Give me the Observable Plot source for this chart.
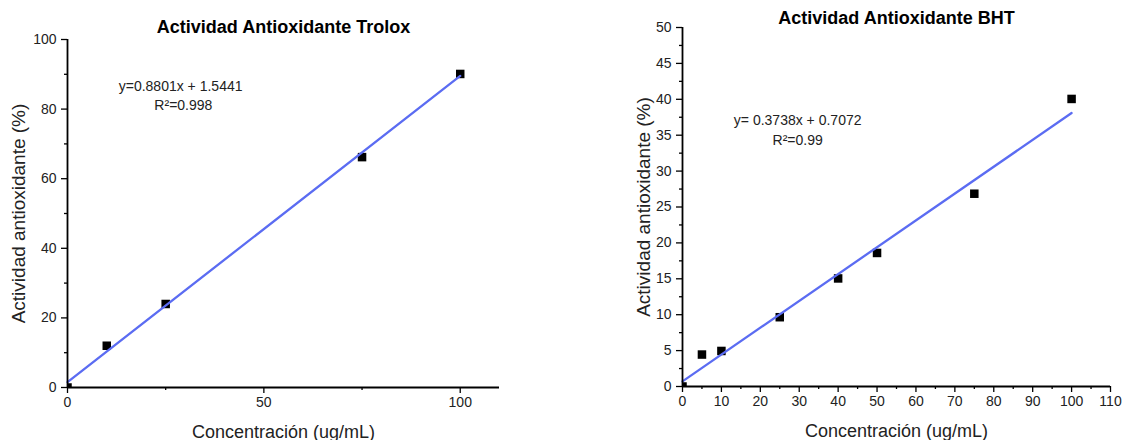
<!DOCTYPE html>
<html>
<head>
<meta charset="utf-8">
<script src="https://cdn.jsdelivr.net/npm/d3@7"></script>
<script src="https://cdn.jsdelivr.net/npm/@observablehq/plot@0.6"></script>
<style>
  html, body { margin: 0; padding: 0; background: #fff; }
  #wrap { position: relative; width: 1145px; height: 440px; overflow: hidden; font-family: "Liberation Sans", Arial, sans-serif; }
  #left, #right { position: absolute; top: 0; }
  #left { left: 0; }
  #right { left: 585px; }
  svg { overflow: visible; }
</style>
</head>
<body>
<div id="wrap"><div id="left"></div><div id="right"></div></div>
<script>
// ---- Data ----
const troloxConc = [0, 10, 25, 75, 100];
const troloxAct  = [0, 12.0, 24.0, 66.2, 90.1];
const troloxFitX = [0, 100];
const troloxFitY = [1.5441, 89.5541];
const troloxEq   = ["y=0.8801x + 1.5441", "R²=0.998"];
const troloxEqX  = [28.8, 29.5];
const troloxEqY  = [86.5, 81.0];

const bhtConc = [0, 5, 10, 25, 40, 50, 75, 100];
const bhtAct  = [0, 4.45, 4.95, 9.65, 15.05, 18.6, 26.85, 40.05];
const bhtFitX = [0, 100];
const bhtFitY = [0.7072, 38.0872];
const bhtEq   = ["y= 0.3738x + 0.7072", "R²=0.99"];
const bhtEqX  = [29.6, 29.6];
const bhtEqY  = [37.0, 34.2];

const leftXMajor = [0, 50, 100];
const leftXMinor = [25, 75];
const leftYMajor = [0, 20, 40, 60, 80, 100];
const leftYMinor = [10, 30, 50, 70, 90];

const rightXMajor = [0, 10, 20, 30, 40, 50, 60, 70, 80, 90, 100, 110];
const rightXMinor = [5, 15, 25, 35, 45, 55, 65, 75, 85, 95, 105];
const rightYMajor = [0, 5, 10, 15, 20, 25, 30, 35, 40, 45, 50];
const rightYMinor = [2.5, 7.5, 12.5, 17.5, 22.5, 27.5, 32.5, 37.5, 42.5, 47.5];

const xTitle = "Concentración (ug/mL)";
const yTitle = "Actividad antioxidante (%)";

const FONT = '"Liberation Sans", Arial, sans-serif';
const LINE = "#5b6cf2";

function chart(o) {
  const pts = o.x.map((v, i) => ({x: v, y: o.y[i]}));
  const fit = o.fx.map((v, i) => ({x: v, y: o.fy[i]}));
  const eq = o.eq.map((t, i) => ({t, x: o.eqX[i], y: o.eqY[i]}));
  return Plot.plot({
    width: 560, height: 440,
    marginLeft: o.ml, marginRight: o.mr, marginTop: o.mt, marginBottom: o.mb,
    style: {fontFamily: FONT, fontSize: "14px", color: "#222", background: "transparent", overflow: "visible"},
    x: {domain: [0, 110]},
    y: {domain: o.yDomain},
    marks: [
      Plot.axisX(o.xMajor, {tickSize: 6, tickPadding: 4, fontSize: 14, label: null, stroke: "#000", strokeWidth: 1.3}),
      Plot.axisX(o.xMinor, {tickSize: 3, tickFormat: () => "", label: null, stroke: "#000", strokeWidth: 1.3}),
      Plot.axisY(o.yMajor, {tickSize: 6, tickPadding: 5, fontSize: 14, label: null, stroke: "#000", strokeWidth: 1.3}),
      Plot.axisY(o.yMinor, {tickSize: 3, tickFormat: () => "", label: null, stroke: "#000", strokeWidth: 1.3}),
      Plot.dot(pts, {x: "x", y: "y", symbol: "square", r: 4.8, fill: "#000", stroke: null, clip: true}),
      Plot.line(fit, {x: "x", y: "y", stroke: LINE, strokeWidth: 2.3}),
      Plot.ruleX([0], {stroke: "#000", strokeWidth: 1.8}),
      Plot.ruleY([0], {stroke: "#000", strokeWidth: 1.8}),
      Plot.text(eq, {x: "x", y: "y", text: "t", fontSize: 14, fill: "#222"}),
      Plot.text([o.title], {frameAnchor: "top", dy: o.titleDy, lineAnchor: "middle", fontSize: 18, fontWeight: "bold", fill: "#000"}),
      Plot.text([xTitle], {frameAnchor: "bottom", dy: 45, lineAnchor: "middle", fontSize: 18, fill: "#222"}),
      Plot.text([yTitle], {frameAnchor: "left", dx: o.yTitleDx, rotate: -90, textAnchor: "middle", lineAnchor: "middle", fontSize: 19, fill: "#222"})
    ]
  });
}

document.getElementById("left").append(chart({
  x: troloxConc, y: troloxAct, fx: troloxFitX, fy: troloxFitY,
  eq: troloxEq, eqX: troloxEqX, eqY: troloxEqY,
  ml: 67, mr: 61, mt: 39, mb: 53,
  yDomain: [0, 100],
  xMajor: leftXMajor, xMinor: leftXMinor, yMajor: leftYMajor, yMinor: leftYMinor,
  title: "Actividad Antioxidante Trolox", titleDy: -12, yTitleDx: -49
}));

document.getElementById("right").append(chart({
  x: bhtConc, y: bhtAct, fx: bhtFitX, fy: bhtFitY,
  eq: bhtEq, eqX: bhtEqX, eqY: bhtEqY,
  ml: 97, mr: 35, mt: 27, mb: 54,
  yDomain: [0, 50],
  xMajor: rightXMajor, xMinor: rightXMinor, yMajor: rightYMajor, yMinor: rightYMinor,
  title: "Actividad Antioxidante BHT", titleDy: -9, yTitleDx: -39
}));
</script>
</body>
</html>
